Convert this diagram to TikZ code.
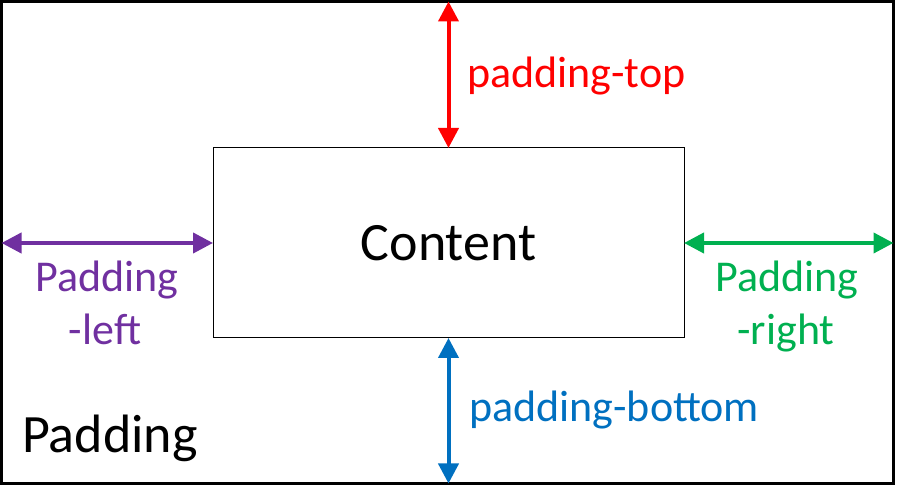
\documentclass[tikz,border=0pt]{standalone}
\usepackage{fontspec}
\setmainfont{Carlito}
\usetikzlibrary{arrows.meta}
\definecolor{cred}{HTML}{FF0000}
\definecolor{cpurple}{HTML}{7030A0}
\definecolor{cgreen}{HTML}{00B050}
\definecolor{cblue}{HTML}{0070C0}
\tikzset{
  dim/.style={line width=4pt, {Triangle[width=20pt,length=20pt]}-{Triangle[width=20pt,length=20pt]}},
  lbl/.style={inner sep=0pt, font=\fontsize{44}{53}\selectfont},
  big/.style={inner sep=0pt, font=\fontsize{54}{65}\selectfont},
}
\begin{document}
\begin{tikzpicture}[x=1pt,y=-1pt]
\useasboundingbox (0,0) rectangle (898,486);
\node[draw, line width=3pt, outer sep=0pt, inner sep=0pt, minimum width=892pt, minimum height=482pt] (outer) at (447.5,242.5) {};
\node[draw, line width=1pt, outer sep=0pt, inner sep=0pt, minimum width=471pt, minimum height=190pt, big] (content) at (448.5,243) {Content};
\draw[dim, cred] (content.north) -- (content.north |- outer.north);
\draw[dim, cblue] (content.south) -- (content.south |- outer.south);
\draw[dim, cpurple] (content.west) -- (content.west -| outer.west);
\draw[dim, cgreen] (content.east) -- (content.east -| outer.east);
\node[lbl, text=cred, anchor=base west] (ptop) at (467,88) {padding-top};
\node[lbl, text=cblue, anchor=base west] (pbottom) at (469,422) {padding-bottom};
\node[lbl, text=cpurple, anchor=base] (pleft1) at (107,292) {Padding};
\node[lbl, text=cpurple, anchor=base] (pleft2) at (105,345) {-left};
\node[lbl, text=cgreen, anchor=base] (pright1) at (787,292) {Padding};
\node[lbl, text=cgreen, anchor=base] (pright2) at (786,345) {-right};
\node[big, anchor=base west] (padding) at (22,453) {Padding};
\end{tikzpicture}
\end{document}
